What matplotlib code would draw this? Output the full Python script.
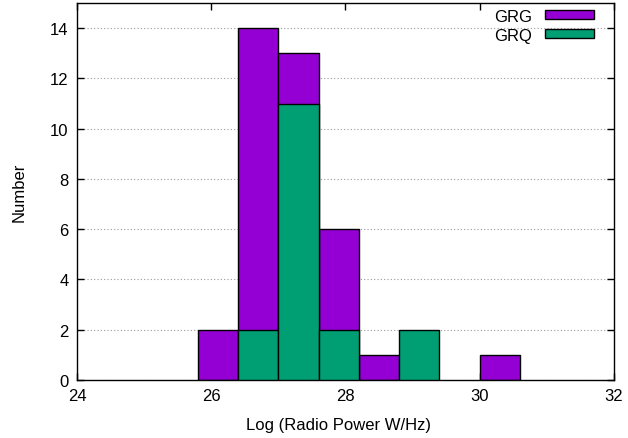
import numpy as np
import matplotlib
matplotlib.use("Agg")
import matplotlib.pyplot as plt
from matplotlib.patches import Patch

plt.rcParams['font.family'] = ['Liberation Sans', 'DejaVu Sans']

bin_edges = [25.8, 26.4, 27.0, 27.6, 28.2, 28.8, 29.4, 30.0, 30.6]
grg_counts = [2, 14, 13, 6, 1, 0, 0, 1]
grq_counts = [0, 2, 11, 2, 0, 2, 0, 0]
grg_color = '#9400D3'
grq_color = '#009E73'

fig = plt.figure(figsize=(6.28, 4.39), dpi=100)
ax = fig.add_axes([0.1226, 0.1321, 0.855, 0.8588])

lefts = np.array(bin_edges[:-1])
widths = np.diff(bin_edges)
for l, w, c in zip(lefts, widths, grg_counts):
    if c > 0:
        ax.bar(l, c, width=w, align='edge', color=grg_color, edgecolor='black', linewidth=1.0, zorder=2)
for l, w, c in zip(lefts, widths, grq_counts):
    if c > 0:
        ax.bar(l, c, width=w, align='edge', color=grq_color, edgecolor='black', linewidth=1.0, zorder=3)

ax.set_xlim(24, 32)
ax.set_ylim(0, 15)
ax.set_xticks([24, 26, 28, 30, 32])
ax.set_yticks([0, 2, 4, 6, 8, 10, 12, 14])
ax.tick_params(direction='in', top=True, right=True, length=5, width=1, labelsize=12, pad=6)
ax.yaxis.grid(True, linestyle=(0, (1, 2)), color='#999999', linewidth=0.8, zorder=0)
ax.set_axisbelow(True)
for s in ax.spines.values():
    s.set_linewidth(1.0)

ax.set_xlabel('Log (Radio Power W/Hz)', fontsize=12)
ax.xaxis.set_label_coords(0.487, -0.118)
ax.xaxis.label.set_va('center')
ax.set_ylabel('Number', fontsize=12, labelpad=17)

handles = [Patch(facecolor=grg_color, edgecolor='black', linewidth=1.0),
           Patch(facecolor=grq_color, edgecolor='black', linewidth=1.0)]
leg = ax.legend(handles, ['GRG', 'GRQ'], loc='upper right', bbox_to_anchor=(0.99, 1.025),
                frameon=False, markerfirst=False, handlelength=2.9, handleheight=0.45,
                labelspacing=0.25, handletextpad=0.8, fontsize=12)
for t in leg.get_texts():
    t.set_ha('right')

fig.savefig('out.png', dpi=100)
